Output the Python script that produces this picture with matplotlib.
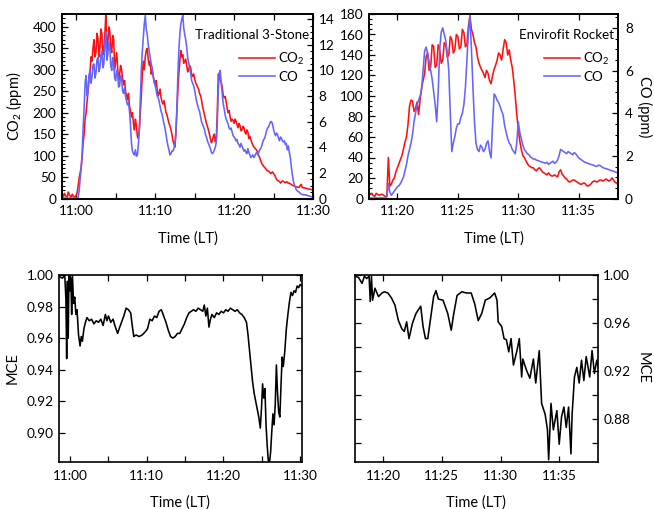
import numpy as np
import matplotlib
matplotlib.use("Agg")
import matplotlib.pyplot as plt
from matplotlib.ticker import FixedLocator, FixedFormatter, MultipleLocator

plt.rcParams['font.family'] = ['Lato', 'DejaVu Sans']
plt.rcParams['font.size'] = 9.8
plt.rcParams['mathtext.fontset'] = 'custom'
plt.rcParams['mathtext.rm'] = 'Lato'

RED = '#ff1010'
BLUE = '#6464ff'

# ---------------- Panel A: Traditional 3-Stone (minutes after 11:00) -------------
a_start, a_step = -1.75, 0.125
co2_A = [8, 4, 12, 7, 5, 3, 15, 9, 6, 3, 10, 6, 4, 2, 8, 14, 30, 48, 60, 72,
         95, 130, 150, 185, 200, 225, 250, 282, 295, 330, 320, 350, 370, 330,
         340, 385, 375, 330, 350, 395, 385, 335, 345, 380, 430, 345, 360, 400,
         390, 350, 340, 380, 370, 300, 320, 340, 305, 275, 290, 310, 300, 280,
         265, 275, 250, 240, 230, 245, 215, 205, 190, 200, 175, 160, 185, 170,
         145, 140, 160, 200, 240, 290, 320, 300, 330, 345, 350, 325, 310, 320,
         290, 300, 285, 270, 265, 275, 255, 240, 245, 255, 235, 225, 220, 228,
         215, 200, 195, 185, 175, 170, 160, 150, 135, 128, 120, 150, 200, 250,
         290, 320, 345, 330, 335, 315, 320, 325, 310, 295, 300, 310, 305, 290,
         285, 290, 280, 270, 265, 260, 255, 245, 240, 230, 215, 205, 195, 185,
         175, 168, 160, 150, 140, 130, 135, 145, 150, 132, 140, 200, 290, 285,
         275, 270, 260, 240, 235, 238, 225, 210, 200, 205, 190, 180, 185, 182,
         175, 185, 180, 172, 165, 175, 170, 158, 160, 168, 165, 155, 150, 160,
         155, 140, 145, 138, 130, 125, 120, 118, 115, 112, 108, 100, 95, 88,
         82, 78, 75, 72, 70, 66, 65, 63, 62, 58, 60, 62, 58, 55, 50, 45,
         42, 41, 40, 36, 38, 41, 40, 38, 37, 39, 38, 35, 36, 34, 33, 31,
         30, 29, 28, 27, 27, 26, 26, 30, 33, 26, 25, 25, 24, 24, 23, 22,
         22, 22, 21, 20, 20]
co_A = [0.05, 0.04, 0.03, 0.04, 0.05, 0.03, 0.02, 0.03, 0.04, 0.03, 0.03, 0.04,
        0.05, 0.04, 0.03, 0.05, 0.1, 0.6, 1.5, 2.4, 3.5, 5.5, 7.0, 9.0,
        9.6, 8.0, 8.4, 9.6, 10.0, 9.0, 9.5, 10.4, 10.5, 9.4, 9.8, 10.8,
        11.0, 9.9, 10.2, 11.2, 11.5, 10.2, 10.5, 12.0, 13.0, 10.8, 11.2, 12.2,
        11.8, 10.4, 10.0, 11.0, 10.5, 9.4, 9.2, 10.0, 9.8, 8.7, 8.8, 9.6,
        9.4, 8.4, 8.2, 8.6, 8.0, 7.6, 7.3, 7.5, 6.8, 5.8, 4.3, 3.7,
        3.5, 3.4, 3.8, 3.3, 3.4, 4.2, 5.5, 7.8, 10.0, 11.5, 12.5, 13.6,
        14.3, 13.2, 12.8, 12.0, 11.5, 11.0, 10.5, 10.2, 9.6, 9.2, 8.8, 8.5,
        8.0, 7.9, 7.6, 7.2, 6.8, 6.6, 6.2, 5.8, 5.5, 5.0, 4.5, 4.1,
        3.8, 3.4, 3.5, 3.7, 3.7, 3.9, 4.2, 5.2, 7.0, 9.5, 11.5, 12.8,
        13.6, 14.0, 14.3, 13.3, 12.8, 12.4, 11.8, 11.0, 10.6, 10.2, 9.8, 9.2,
        9.0, 8.8, 8.5, 8.0, 7.6, 7.3, 7.0, 6.8, 6.4, 6.0, 5.8, 5.6,
        5.4, 5.0, 4.8, 4.5, 4.3, 4.1, 3.9, 3.6, 3.5, 3.6, 3.8, 4.0,
        4.4, 6.0, 8.5, 9.8, 10.0, 9.0, 8.2, 7.4, 7.0, 6.5, 6.2, 6.0,
        5.8, 5.5, 5.4, 5.5, 5.2, 4.9, 4.8, 4.7, 4.5, 4.6, 4.3, 4.2,
        4.0, 4.3, 4.1, 3.9, 3.7, 3.8, 3.6, 3.5, 3.9, 3.6, 3.4, 3.2,
        3.3, 3.4, 3.2, 3.3, 3.5, 3.6, 3.4, 3.6, 3.8, 3.9, 4.1, 4.4,
        4.6, 4.7, 5.0, 5.3, 5.5, 5.6, 5.8, 6.0, 6.0, 5.8, 5.4, 5.1,
        4.9, 5.1, 5.0, 4.7, 4.5, 4.8, 4.7, 4.5, 4.4, 4.5, 4.2, 4.3,
        3.8, 4.1, 3.6, 3.2, 2.5, 1.9, 1.4, 1.1, 0.9, 0.7, 0.6, 0.55,
        0.5, 0.4, 0.35, 0.32, 0.3, 0.28, 0.3, 0.26, 0.25, 0.22, 0.2, 0.18,
        0.15, 0.12, 0.1]

# ---------------- Panel B: Envirofit Rocket ----------------
b_start, b_step = 17.75, 0.125
co2_B = [4, 5, 3, 2, 5, 4, 3, 4, 4, 3, 2, 2, 40, 12, 14, 18, 20, 26, 30, 34,
         38, 42, 48, 55, 60, 72, 90, 96, 95, 85, 88, 94, 82, 96, 108, 115,
         122, 138, 142, 125, 128, 150, 148, 128, 130, 150, 145, 132, 135, 152,
         150, 138, 140, 158, 155, 142, 145, 160, 158, 146, 148, 165, 162, 148,
         150, 168, 178, 165, 160, 152, 148, 138, 132, 128, 125, 122, 118, 125,
         122, 115, 112, 120, 126, 130, 135, 142, 140, 135, 146, 155, 152, 140,
         145, 135, 128, 115, 100, 82, 68, 56, 48, 42, 40, 37, 34, 32, 31, 30,
         30, 28, 27, 29, 30, 28, 26, 25, 24, 23, 25, 23, 22, 22, 23, 22, 21,
         26, 28, 24, 22, 20, 19, 17, 16, 17, 18, 18, 17, 16, 15, 14, 14, 15,
         15, 13, 12, 13, 14, 16, 17, 17, 16, 17, 18, 18, 17, 18, 19, 18, 17,
         18, 20, 18, 16, 15, 14]
co_B = [0.02, 0.03, 0.02, 0.02, 0.03, 0.02, 0.02, 0.03, 0.03, 0.02, 0.02, 0.1,
        0.7, 0.3, 0.15, 0.25, 0.35, 0.45, 0.55, 0.6, 0.7, 0.85, 1.0, 1.3,
        1.6, 2.0, 2.3, 2.6, 3.0, 3.6, 4.0, 4.4, 4.6, 4.8, 5.1, 6.0,
        6.9, 7.1, 6.8, 6.4, 6.0, 5.6, 5.0, 4.4, 3.6, 5.0, 7.0, 7.8,
        8.0, 7.7, 7.4, 6.8, 6.0, 4.0, 2.2, 2.6, 2.9, 3.3, 3.5, 3.5,
        3.8, 4.0, 4.4, 5.2, 6.5, 7.8, 8.6, 7.0, 5.2, 3.6, 2.6, 2.3,
        2.2, 2.5, 2.4, 2.2, 2.3, 2.6, 2.7, 2.2, 1.9, 3.5, 4.9, 4.8,
        4.6, 4.5, 4.3, 4.1, 3.9, 3.4, 3.1, 2.8, 2.6, 2.5, 2.3, 2.2,
        2.1, 2.6, 3.6, 3.1, 2.8, 2.5, 2.3, 2.2, 2.1, 2.05, 1.95, 1.9,
        1.85, 1.85, 1.8, 1.78, 1.75, 1.72, 1.7, 1.68, 1.65, 1.7, 1.6, 1.65,
        1.7, 1.75, 1.65, 1.7, 1.8, 2.0, 2.3, 2.25, 2.2, 2.15, 2.1, 2.2,
        2.15, 2.1, 2.05, 2.15, 2.1, 2.0, 1.9, 1.85, 1.8, 1.75, 1.7, 1.68,
        1.65, 1.62, 1.6, 1.58, 1.55, 1.52, 1.5, 1.56, 1.55, 1.5, 1.45, 1.42,
        1.4, 1.38, 1.35, 1.32, 1.3, 1.28, 1.25, 1.22, 1.2]

# ---------------- Panel C: MCE, Traditional ----------------
t_C = [-1.45, -1.0, -0.7, -0.55, -0.45, -0.35, -0.25, -0.15, 0.0, 0.1, 0.2, 0.3,
       0.45, 0.6, 0.75, 0.9, 1.1, 1.3, 1.45, 1.6, 1.8, 2.0, 2.2, 2.5, 2.8, 3.1,
       3.4, 3.7, 4.0, 4.3, 4.6, 4.8, 5.0, 5.3, 5.6, 5.9, 6.2, 6.4, 6.7, 7.0,
       7.3, 7.6, 7.9, 8.1, 8.3, 8.6, 9.0, 9.4, 9.8, 10.1, 10.4, 10.7, 11.0,
       11.3, 11.6, 11.9, 12.2, 12.5, 12.8, 13.1, 13.4, 13.7, 14.0, 14.3, 14.6,
       14.9, 15.2, 15.5, 15.8, 16.1, 16.4, 16.7, 17.0, 17.3, 17.5, 17.7, 17.9,
       18.1, 18.3, 18.5, 18.8, 19.1, 19.4, 19.7, 20.0, 20.3, 20.6, 20.9, 21.2,
       21.5, 21.8, 22.1, 22.4, 22.7, 23.0, 23.2, 23.4, 23.6, 23.8, 24.0, 24.2,
       24.4, 24.6, 24.8, 24.95, 25.1, 25.25, 25.4, 25.55, 25.7, 25.85, 26.0,
       26.15, 26.3, 26.45, 26.6, 26.75, 26.9, 27.05, 27.2, 27.35, 27.5, 27.65,
       27.8, 28.0, 28.2, 28.4, 28.6, 28.8, 29.0, 29.2, 29.4, 29.6, 29.8, 30.0,
       30.2]
mce_C = [0.999, 0.998, 1.0, 0.985, 0.947, 0.996, 0.960, 1.0, 0.99, 0.998, 0.975,
         1.0, 0.982, 0.986, 0.975, 0.978, 0.962, 0.955, 0.961, 0.958, 0.966,
         0.970, 0.973, 0.971, 0.972, 0.969, 0.971, 0.970, 0.972, 0.968, 0.975,
         0.971, 0.974, 0.970, 0.972, 0.967, 0.963, 0.966, 0.970, 0.974, 0.979,
         0.978, 0.976, 0.968, 0.961, 0.962, 0.961, 0.962, 0.964, 0.966, 0.972,
         0.971, 0.974, 0.973, 0.977, 0.978, 0.974, 0.970, 0.965, 0.961, 0.960,
         0.961, 0.963, 0.963, 0.966, 0.969, 0.973, 0.976, 0.977, 0.978, 0.977,
         0.979, 0.978, 0.977, 0.981, 0.974, 0.979, 0.967, 0.972, 0.975, 0.973,
         0.976, 0.975, 0.977, 0.976, 0.978, 0.977, 0.979, 0.978, 0.977, 0.978,
         0.976, 0.975, 0.973, 0.970, 0.962, 0.952, 0.942, 0.932, 0.925, 0.920,
         0.915, 0.910, 0.903, 0.915, 0.931, 0.922, 0.928, 0.905, 0.892, 0.882,
         0.881, 0.888, 0.901, 0.912, 0.905, 0.918, 0.943, 0.925, 0.913, 0.910,
         0.930, 0.948, 0.942, 0.952, 0.966, 0.975, 0.983, 0.989, 0.987, 0.990,
         0.989, 0.993, 0.992, 0.994, 0.993]

# ---------------- Panel D: MCE, Envirofit ----------------
t_D = [17.6, 17.9, 18.2, 18.4, 18.6, 18.8, 18.9, 19.0, 19.1, 19.3, 19.6, 19.9,
       20.1, 20.4, 20.7, 21.0, 21.3, 21.6, 21.8, 22.0, 22.2, 22.5, 22.8, 23.2,
       23.4, 23.6, 23.8, 24.1, 24.3, 24.5, 24.7, 25.1, 25.5, 25.8, 26.0, 26.3,
       26.7, 27.1, 27.5, 27.8, 28.1, 28.4, 28.7, 29.1, 29.5, 29.7, 29.8, 30.1,
       30.3, 30.5, 30.7, 30.9, 31.1, 31.4, 31.6, 31.8, 31.9, 32.2, 32.5, 32.8,
       33.0, 33.3, 33.5, 33.8, 34.0, 34.1, 34.3, 34.5, 34.8, 35.0, 35.2, 35.4,
       35.6, 35.8, 36.0, 36.1, 36.3, 36.5, 36.7, 36.9, 37.1, 37.3, 37.6, 37.8,
       38.0, 38.2, 38.3]
mce_D = [0.999, 0.998, 0.993, 0.999, 0.997, 0.999, 0.978, 0.999, 0.979, 0.989,
         0.982, 0.985, 0.986, 0.985, 0.981, 0.975, 0.962, 0.955, 0.953, 0.961,
         0.947, 0.960, 0.968, 0.974, 0.957, 0.947, 0.947, 0.968, 0.982, 0.987,
         0.980, 0.979, 0.968, 0.954, 0.967, 0.983, 0.986, 0.985, 0.985, 0.976,
         0.962, 0.968, 0.979, 0.981, 0.985, 0.979, 0.961, 0.957, 0.947, 0.946,
         0.936, 0.947, 0.925, 0.937, 0.947, 0.915, 0.930, 0.921, 0.914, 0.930,
         0.910, 0.937, 0.893, 0.884, 0.871, 0.846, 0.893, 0.871, 0.887, 0.859,
         0.882, 0.890, 0.873, 0.890, 0.851, 0.884, 0.915, 0.923, 0.910, 0.929,
         0.912, 0.932, 0.915, 0.937, 0.918, 0.929, 0.924]

# tick definitions
xt_A = [0, 5, 10, 15, 20, 25, 30]
xl_A = ['11:00', '', '11:10', '', '11:20', '', '11:30']
xt_B = [20, 25, 30, 35]
xl_B = ['11:20', '11:25', '11:30', '11:35']
yt_D = [0.86, 0.88, 0.90, 0.92, 0.94, 0.96, 0.98, 1.00]
yl_D = ['', '0.88', '', '0.92', '', '0.96', '', '1.00']
yt_C = [0.90, 0.92, 0.94, 0.96, 0.98, 1.00]
yl_C = ['0.90', '0.92', '0.94', '0.96', '0.98', '1.00']

W, H = 654, 509
fig = plt.figure(figsize=(W / 100, H / 100), dpi=100)


def box(l, r, t, b):
    return [l / W, 1 - b / H, (r - l) / W, (b - t) / H]


TK = dict(direction='in', length=4.5, width=0.9, labelsize=9.8)
TKm = dict(direction='in', length=2.5, width=0.8)
LW = 1.15
LBL = 10.5
TXT = 9.6


def style(ax):
    for s in ax.spines.values():
        s.set_linewidth(1.2)


# Panel A
axA = fig.add_axes(box(62, 313, 14, 198.5))
tA1 = a_start + a_step * np.arange(len(co2_A))
tA2 = a_start + a_step * np.arange(len(co_A))
l1, = axA.plot(tA1, co2_A, color=RED, lw=LW, label='CO$_2$')
axA2 = axA.twinx()
l2, = axA2.plot(tA2, co_A, color=BLUE, lw=LW, label='CO')
axA.set_xlim(-1.8, 30)
axA.set_ylim(0, 430)
axA2.set_ylim(0, 14.4)
axA.yaxis.set_major_locator(MultipleLocator(50))
axA.yaxis.set_minor_locator(MultipleLocator(10))
axA2.yaxis.set_major_locator(MultipleLocator(2))
axA2.yaxis.set_minor_locator(MultipleLocator(0.5))
axA.xaxis.set_major_locator(FixedLocator(xt_A))
axA.xaxis.set_major_formatter(FixedFormatter(xl_A))
axA.tick_params(axis='x', which='major', top=True, pad=5, **TK)
axA.tick_params(axis='y', which='major', pad=4, **TK)
axA.tick_params(axis='y', which='minor', **TKm)
axA2.tick_params(axis='y', which='major', pad=4, **TK)
axA2.tick_params(axis='y', which='minor', **TKm)
axA.set_ylabel('CO$_2$ (ppm)', fontsize=LBL, labelpad=6)
axA.set_xlabel('Time (LT)', fontsize=LBL, labelpad=10)
axA.text(0.985, 0.885, 'Traditional 3-Stone', transform=axA.transAxes,
         ha='right', va='center', fontsize=TXT)
axA.legend(handles=[l1, l2], loc='upper right', bbox_to_anchor=(1.0, 0.845),
           frameon=False, fontsize=TXT, handlelength=2.7, handletextpad=0.25,
           borderaxespad=0.2, labelspacing=0.3)
style(axA); style(axA2)

# Panel B
axB = fig.add_axes(box(369, 618, 14, 198.5))
tB1 = b_start + b_step * np.arange(len(co2_B))
tB2 = b_start + b_step * np.arange(len(co_B))
m1, = axB.plot(tB1, co2_B, color=RED, lw=LW, label='CO$_2$')
axB2 = axB.twinx()
m2, = axB2.plot(tB2, co_B, color=BLUE, lw=LW, label='CO')
axB.set_xlim(17.65, 38.25)
axB.set_ylim(0, 180)
axB2.set_ylim(0, 8.65)
axB.yaxis.set_major_locator(MultipleLocator(20))
axB.yaxis.set_minor_locator(MultipleLocator(5))
axB2.yaxis.set_major_locator(MultipleLocator(2))
axB2.yaxis.set_minor_locator(MultipleLocator(0.5))
axB.xaxis.set_major_locator(FixedLocator(xt_B))
axB.xaxis.set_major_formatter(FixedFormatter(xl_B))
axB.tick_params(axis='x', which='major', top=True, pad=5, **TK)
axB.tick_params(axis='y', which='major', pad=4, **TK)
axB.tick_params(axis='y', which='minor', **TKm)
axB2.tick_params(axis='y', which='major', pad=5, **TK)
axB2.tick_params(axis='y', which='minor', **TKm)
axB2.set_ylabel('CO (ppm)', fontsize=LBL, rotation=270, labelpad=14)
axB.set_xlabel('Time (LT)', fontsize=LBL, labelpad=10)
axB.text(0.985, 0.885, 'Envirofit Rocket', transform=axB.transAxes,
         ha='right', va='center', fontsize=TXT)
axB.legend(handles=[m1, m2], loc='upper right', bbox_to_anchor=(1.0, 0.845),
           frameon=False, fontsize=TXT, handlelength=2.7, handletextpad=0.25,
           borderaxespad=0.2, labelspacing=0.3)
style(axB); style(axB2)

# Panel C
axC = fig.add_axes(box(59, 301.7, 275, 461.5))
axC.plot(t_C, mce_C, color='black', lw=LW)
axC.set_xlim(-1.45, 30.2)
axC.set_ylim(0.8818, 1.0)
axC.xaxis.set_major_locator(FixedLocator(xt_A))
axC.xaxis.set_major_formatter(FixedFormatter(xl_A))
axC.yaxis.set_major_locator(FixedLocator(yt_C))
axC.yaxis.set_major_formatter(FixedFormatter(yl_C))
axC.tick_params(axis='x', which='major', top=True, pad=6, **TK)
axC.tick_params(axis='y', which='major', right=True, pad=4, **TK)
axC.set_ylabel('MCE', fontsize=LBL, labelpad=5)
axC.set_xlabel('Time (LT)', fontsize=LBL, labelpad=10)
style(axC)

# Panel D
axD = fig.add_axes(box(355, 597.7, 275, 461.5))
axD.plot(t_D, mce_D, color='black', lw=LW)
axD.set_xlim(17.6, 38.28)
axD.set_ylim(0.8446, 1.0)
axD.xaxis.set_major_locator(FixedLocator(xt_B))
axD.xaxis.set_major_formatter(FixedFormatter(xl_B))
axD.yaxis.set_major_locator(FixedLocator(yt_D))
axD.yaxis.set_major_formatter(FixedFormatter(yl_D))
axD.tick_params(axis='x', which='major', top=True, pad=6, **TK)
axD.tick_params(axis='y', which='major', left=True, right=True,
                labelleft=False, labelright=True, pad=4, **TK)
axD.yaxis.set_label_position('right')
axD.set_ylabel('MCE', fontsize=LBL, rotation=270, labelpad=14)
axD.set_xlabel('Time (LT)', fontsize=LBL, labelpad=10)
style(axD)

fig.savefig('out.png', dpi=100)
